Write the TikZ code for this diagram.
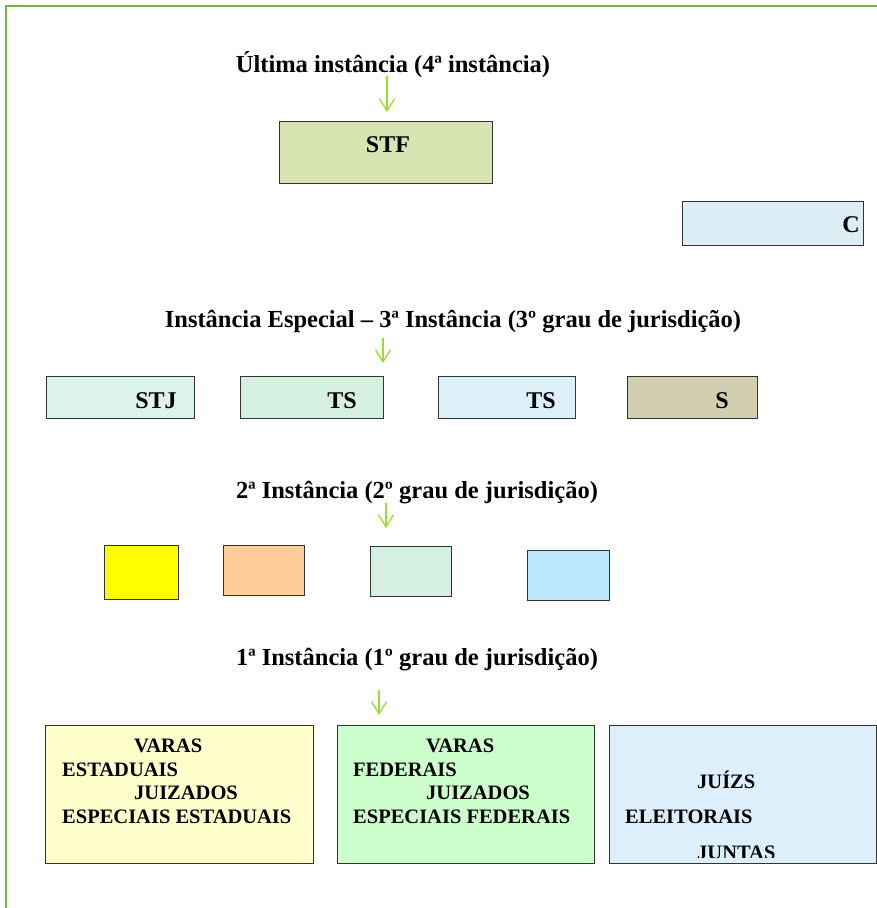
\documentclass[tikz,border=0pt]{standalone}
\usepackage{fontspec}
\setmainfont{Liberation Serif}
\usetikzlibrary{arrows.meta,positioning}

\definecolor{framegreen}{HTML}{77B347}
\definecolor{arrowgreen}{HTML}{99DD33}
\definecolor{stfgreen}{HTML}{D7E4B1}
\definecolor{cblue}{HTML}{DCEEF5}
\definecolor{stjgreen}{HTML}{DCF2EC}
\definecolor{tsgreen}{HTML}{D5EFE0}
\definecolor{tsblue}{HTML}{DCF0FA}
\definecolor{sbeige}{HTML}{D2CFB0}
\definecolor{yellow2}{HTML}{FFFF00}
\definecolor{orange2}{HTML}{FFCC99}
\definecolor{green2}{HTML}{D5F0E2}
\definecolor{blue2}{HTML}{BBE6FB}
\definecolor{varasyellow}{HTML}{FFFFCC}
\definecolor{varasgreen}{HTML}{CCFFCC}
\definecolor{juizblue}{HTML}{DCEFFA}

\begin{document}
\begin{tikzpicture}[x=1pt,y=-1pt]
			\tikzstyle{Box}		= [draw=black!80, line width=0.8pt, inner sep=0pt, outer sep=0pt, anchor=north west]
			\tikzstyle{Title}	= [font=\bfseries\fontsize{24.5}{28}\selectfont, anchor=base, inner sep=0pt]
			\tikzstyle{Label}	= [font=\bfseries\fontsize{24}{28}\selectfont, anchor=base, inner sep=0pt]
			\tikzstyle{Line}	= [font=\bfseries\fontsize{20.5}{24}\selectfont, anchor=base west, inner sep=0pt]
			\tikzstyle{Down}	= [-{Straight Barb[length=12pt,width=15pt]}, line width=1.3pt, arrowgreen]
			\tikzstyle{Frame}	= [line width=2pt, framegreen]

			\useasboundingbox (0,0) rectangle (877,908);
			\draw [Frame] (6,908) -- (6,6) -- (877,6);

			% titles
			\node (t4) at (393,72) [Title] {Última instância (4ª instância)};
			\node (t3) at (453,327) [Title] {Instância Especial – 3ª Instância (3º grau de jurisdição)};
			\node (t2) at (417,498) [Title] {2ª Instância (2º grau de jurisdição)};
			\node (t1) at (417,665) [Title] {1ª Instância (1º grau de jurisdição)};

			\coordinate (a4s) at (387,76);  \coordinate (a4e) at (387,112);
			\coordinate (a3s) at (383,338); \coordinate (a3e) at (383,363);
			\coordinate (a2s) at (386,503); \coordinate (a2e) at (386,528);
			\coordinate (a1s) at (379,690); \coordinate (a1e) at (379,715);

			\draw [Down] (a4s) -- (a4e);
			\draw [Down] (a3s) -- (a3e);
			\draw [Down] (a2s) -- (a2e);
			\draw [Down] (a1s) -- (a1e);

			% 4a instancia
			\node (stf) at (279,121) [Box, fill=stfgreen, minimum width=213pt, minimum height=62pt] {};
			\node (c) at (682,201) [Box, fill=cblue, minimum width=181pt, minimum height=44pt] {};
			\node (stfl) at (388,152) [Label] {STF};
			\node (cl) at (851,232) [Label] {C};

			% 3a instancia
			\node (stj) at (46,376) [Box, fill=stjgreen, minimum width=148pt, minimum height=42pt] {};
			\node (tst) at (240,376) [Box, fill=tsgreen, minimum width=143pt, minimum height=42pt] {};
			\node (tse) at (438,376) [Box, fill=tsblue, minimum width=137pt, minimum height=42pt] {};
			\node (stm) at (627,376) [Box, fill=sbeige, minimum width=130pt, minimum height=42pt] {};
			\node (stjl) at (156,408) [Label] {STJ};
			\node (tstl) at (342,408) [Label] {TS};
			\node (tsel) at (541,408) [Label] {TS};
			\node (stml) at (722,408) [Label] {S};

			% 2a instancia
			\node (q1) at (104,545) [Box, fill=yellow2, minimum width=74pt, minimum height=54pt] {};
			\node (q2) at (223,545) [Box, fill=orange2, minimum width=81pt, minimum height=50pt] {};
			\node (q3) at (370,546) [Box, fill=green2, minimum width=81pt, minimum height=50pt] {};
			\node (q4) at (527,550) [Box, fill=blue2, minimum width=82pt, minimum height=50pt] {};

			% 1a instancia
			\node (vest) at (45,725) [Box, fill=varasyellow, minimum width=268pt, minimum height=138pt] {};
			\node (vfed) at (337,725) [Box, fill=varasgreen, minimum width=257pt, minimum height=138pt] {};
			\node (jel) at (609,725) [Box, fill=juizblue, minimum width=267pt, minimum height=138pt] {};

			\node (e1) at (134,752) [Line] {VARAS};
			\node (e2) at (62,776) [Line] {ESTADUAIS};
			\node (e3) at (134,799) [Line] {JUIZADOS};
			\node (e4) at (62,823) [Line] {ESPECIAIS ESTADUAIS};

			\node (f1) at (426,752) [Line] {VARAS};
			\node (f2) at (353,776) [Line] {FEDERAIS};
			\node (f3) at (426,799) [Line] {JUIZADOS};
			\node (f4) at (353,823) [Line] {ESPECIAIS FEDERAIS};

			\begin{scope}
				\clip (609,725) rectangle (876,857);
				\node (j1) at (697,788) [Line] {JUÍZS};
				\node (j2) at (625,823) [Line] {ELEITORAIS};
				\node (j3) at (697,859) [Line] {JUNTAS};
			\end{scope}

		\end{tikzpicture}
\end{document}
